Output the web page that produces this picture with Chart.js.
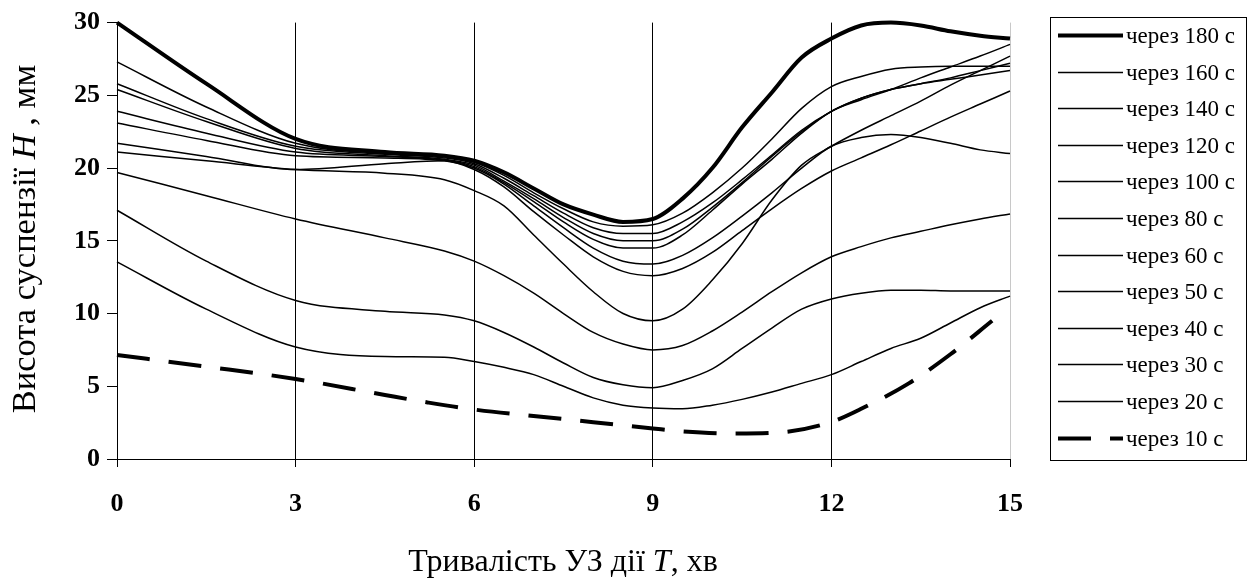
<!DOCTYPE html>
<html><head><meta charset="utf-8">
<script src="https://cdn.jsdelivr.net/npm/chart.js@4/dist/chart.umd.min.js"></script>
<style>html,body{margin:0;padding:0;background:#fff;}canvas{display:block;}</style>
</head><body>
<canvas id="c" width="1256" height="581"></canvas>
<script>
// Time of ultrasound treatment T, min (common sampling grid for solid curves)
const X = [0, 1.5, 3, 4.5, 5.5, 6, 6.5, 7, 7.5, 8, 8.5, 9, 9.5, 10, 10.5, 11, 11.5, 12, 12.5, 13, 13.5, 14, 14.5, 15];
const seriesLabels = ['через 180 с','через 160 с','через 140 с','через 120 с','через 100 с','через 80 с','через 60 с','через 50 с','через 40 с','через 30 с','через 20 с','через 10 с'];
const xTicks = [0, 3, 6, 9, 12, 15];
const yTicks = [0, 5, 10, 15, 20, 25, 30];

const h180 = [30, 25.8, 22.0, 21.1, 20.85, 20.5, 19.7, 18.6, 17.5, 16.8, 16.3, 16.5, 17.9, 20.0, 22.8, 25.2, 27.6, 28.9, 29.8, 30.0, 29.8, 29.4, 29.1, 28.9];
const h160 = [27.3, 24.2, 21.7, 21.0, 20.8, 20.4, 19.5, 18.3, 17.2, 16.3, 16.0, 16.1, 16.9, 18.3, 20.0, 22.0, 24.1, 25.6, 26.3, 26.8, 26.95, 27.0, 27.0, 27.0];
const h140 = [25.8, 23.4, 21.5, 20.95, 20.7, 20.3, 19.3, 18.1, 16.9, 15.9, 15.5, 15.5, 16.3, 17.6, 19.2, 20.9, 22.6, 23.9, 24.8, 25.4, 25.8, 26.1, 26.4, 26.7];
const h120 = [25.4, 23.2, 21.35, 20.85, 20.6, 20.2, 19.1, 17.9, 16.6, 15.5, 15.0, 15.0, 15.8, 17.3, 19.0, 20.8, 22.5, 23.9, 24.8, 25.4, 25.8, 26.2, 26.7, 27.2];
const h100 = [23.9, 22.4, 21.1, 20.8, 20.55, 20.1, 19.0, 17.7, 16.3, 15.1, 14.5, 14.5, 15.4, 17.1, 18.9, 20.6, 22.4, 23.9, 24.7, 25.4, 26.2, 26.95, 27.7, 28.5];
const h80  = [23.1, 21.9, 20.85, 20.7, 20.5, 20.0, 18.9, 17.4, 15.9, 14.5, 13.6, 13.4, 14.0, 15.2, 16.7, 18.3, 20.0, 21.5, 22.1, 22.3, 22.1, 21.7, 21.25, 21.0];
const h60  = [21.7, 20.8, 19.9, 20.3, 20.5, 19.9, 18.7, 17.0, 15.4, 13.9, 12.9, 12.6, 13.1, 14.2, 15.7, 17.2, 18.6, 19.8, 20.7, 21.6, 22.55, 23.5, 24.4, 25.3];
const h50  = [21.1, 20.5, 19.9, 19.65, 19.2, 18.45, 17.4, 15.4, 13.4, 11.5, 10.0, 9.5, 10.3, 12.3, 14.8, 17.8, 20.2, 21.5, 22.6, 23.6, 24.6, 25.7, 26.7, 27.7];
const h40  = [19.7, 18.1, 16.5, 15.2, 14.3, 13.6, 12.6, 11.4, 10.0, 8.7, 7.9, 7.5, 7.8, 8.8, 10.1, 11.5, 12.8, 13.9, 14.6, 15.2, 15.65, 16.1, 16.5, 16.85];
const h30  = [17.1, 13.6, 10.9, 10.15, 9.9, 9.5, 8.7, 7.7, 6.6, 5.6, 5.1, 4.9, 5.4, 6.2, 7.6, 9.0, 10.3, 11.0, 11.4, 11.6, 11.6, 11.55, 11.55, 11.55];
const h20  = [13.55, 10.3, 7.7, 7.05, 7.0, 6.7, 6.3, 5.8, 5.0, 4.2, 3.7, 3.5, 3.45, 3.7, 4.1, 4.6, 5.2, 5.8, 6.7, 7.6, 8.3, 9.35, 10.4, 11.2];
// 10 s curve (dashed) has its own sampling, ends before T = 15
const X10  = [0, 1.5, 3, 4.5, 5.2, 6, 7.5, 9, 9.5, 10.4, 11.25, 12, 12.5, 13.3, 14, 14.7];
const h10  = [7.15, 6.35, 5.5, 4.4, 3.9, 3.4, 2.75, 2.1, 1.9, 1.75, 1.87, 2.55, 3.45, 5.2, 7.2, 9.5];

const solid = [h180, h160, h140, h120, h100, h80, h60, h50, h40, h30, h20];
const pts = (xs, ys) => xs.map((x, i) => ({x: x, y: ys[i]}));

const datasets = solid.map((ys, i) => ({
  label: seriesLabels[i],
  data: pts(X, ys),
  borderColor: '#000',
  borderWidth: i === 0 ? 4 : 1.5,
  pointRadius: 0,
  fill: false,
  cubicInterpolationMode: 'monotone',
  clip: false
}));
datasets.push({
  label: seriesLabels[11],
  data: pts(X10, h10),
  borderColor: '#000',
  borderWidth: 4,
  borderDash: [33, 19],
  pointRadius: 0,
  fill: false,
  cubicInterpolationMode: 'monotone',
  clip: false
});

const SERIF = '"Liberation Serif", "Times New Roman", serif';

function drawMixed(ctx, parts, x, y, size) {
  let total = 0;
  const widths = parts.map(p => {
    ctx.font = (p[1] ? 'italic ' : '') + size + 'px ' + SERIF;
    const w = ctx.measureText(p[0]).width;
    total += w;
    return w;
  });
  let cx = x - total / 2;
  parts.forEach((p, i) => {
    ctx.font = (p[1] ? 'italic ' : '') + size + 'px ' + SERIF;
    ctx.fillText(p[0], cx, y);
    cx += widths[i];
  });
}

const decor = {
  id: 'decor',
  afterDraw(chart) {
    const ctx = chart.ctx;
    ctx.save();
    ctx.fillStyle = '#000';
    ctx.textAlign = 'left';
    ctx.textBaseline = 'alphabetic';
    // x-axis title
    drawMixed(ctx, [['Тривалість УЗ дії ', false], ['T', true], [', хв', false]], 563, 571, 32);
    // y-axis title (rotated)
    ctx.save();
    ctx.translate(35, 239);
    ctx.rotate(-Math.PI / 2);
    drawMixed(ctx, [['Висота суспензії ', false], ['H', true], [' , мм', false]], 0, 0, 34.5);
    ctx.restore();

    // legend box
    const lx = 1050.5, ly = 17.5, lw = 196, lh = 443;
    ctx.lineWidth = 1;
    ctx.strokeStyle = '#000';
    ctx.setLineDash([]);
    ctx.strokeRect(lx, ly, lw, lh);
    const step = 36.6, y0 = 35;
    chart.data.datasets.forEach((ds, i) => {
      const yy = Math.round(y0 + i * step) + 0.5;
      ctx.beginPath();
      ctx.lineWidth = ds.borderWidth;
      ctx.setLineDash(ds.borderDash || []);
      ctx.lineDashOffset = 0;
      ctx.moveTo(1058, yy);
      ctx.lineTo(1123, yy);
      ctx.stroke();
      ctx.setLineDash([]);
      ctx.font = '23px ' + SERIF;
      ctx.textBaseline = 'middle';
      ctx.fillText(ds.label, 1126, yy + 1);
    });
    ctx.restore();
  }
};

new Chart(document.getElementById('c'), {
  type: 'line',
  data: { datasets: datasets },
  plugins: [decor],
  options: {
    responsive: false,
    animation: false,
    events: [],
    layout: { padding: { left: 0, right: 246, top: 20, bottom: 0 } },
    plugins: { legend: { display: false }, tooltip: { enabled: false }, title: { display: false } },
    scales: {
      x: {
        type: 'linear', min: 0, max: 15,
        afterFit: s => { s.height = 122; },
        afterBuildTicks: s => { s.ticks = xTicks.map(v => ({value: v})); },
        ticks: { color: '#000', font: { family: SERIF, size: 26, weight: 'bold' }, padding: 22, maxRotation: 0 },
        grid: {
          color: c => (c.tick && c.tick.value === 15) ? '#c8c8c8' : '#000',
          tickColor: '#000', tickLength: 8, lineWidth: 1, drawOnChartArea: true
        },
        border: { display: true, color: '#000', width: 1 }
      },
      y: {
        min: 0, max: 30,
        afterFit: s => { s.width = 117; },
        afterBuildTicks: s => { s.ticks = yTicks.map(v => ({value: v})); },
        ticks: { color: '#000', font: { family: SERIF, size: 26, weight: 'bold' }, padding: 7 },
        grid: { drawOnChartArea: false, drawTicks: true, tickLength: 10, tickColor: '#000' },
        border: { display: true, color: '#000', width: 1 }
      }
    }
  }
});
</script>
</body></html>
